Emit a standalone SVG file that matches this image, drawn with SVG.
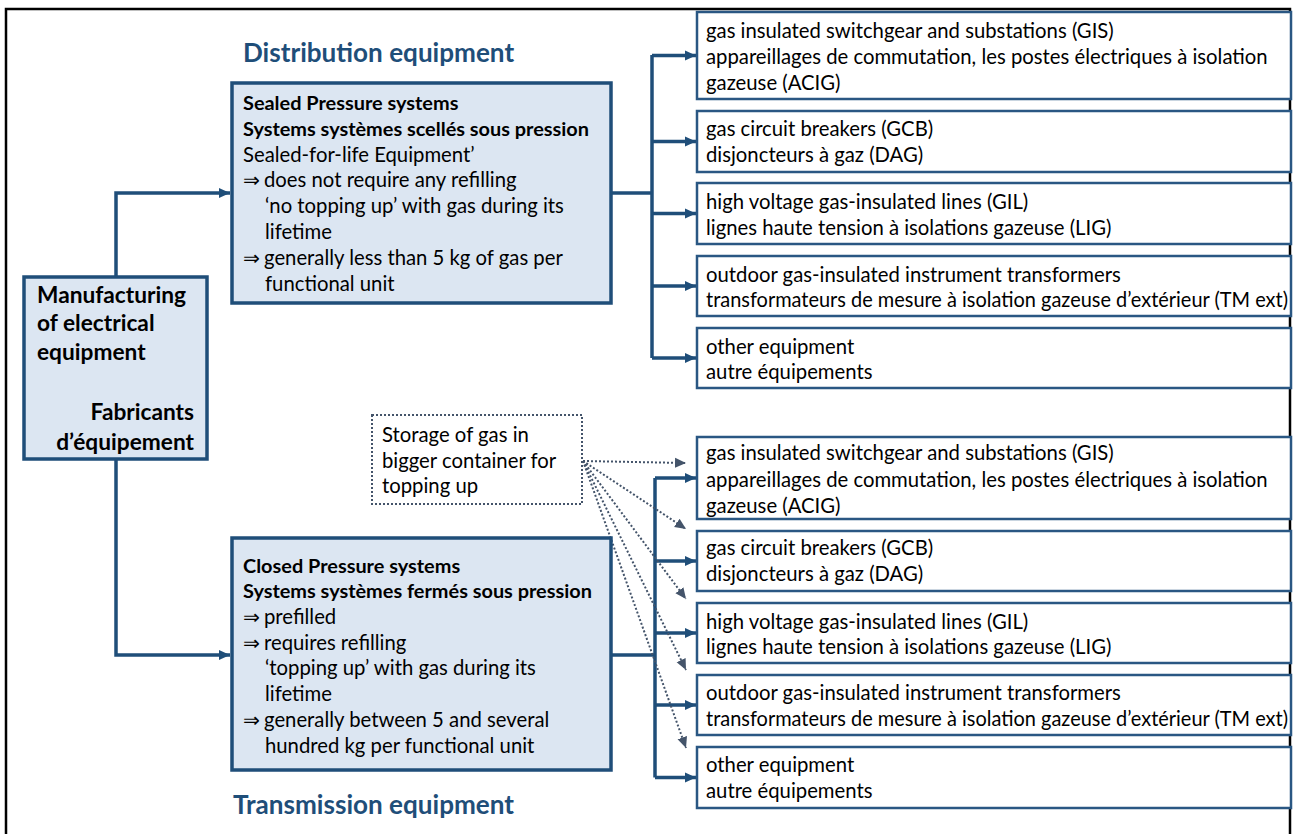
<svg xmlns="http://www.w3.org/2000/svg" width="1297" height="834" viewBox="0 0 1297 834">
  <style>
    .t { font-family: Lato, "Liberation Sans", sans-serif; font-size: 20.3px; fill: #000; }
    .b { font-weight: bold; font-size: 19.9px; }
    .title { font-family: Lato, "Liberation Sans", sans-serif; font-size: 26.1px; font-weight: bold; fill: #1F4E79; }
    .big { font-family: Lato, "Liberation Sans", sans-serif; font-size: 22.7px; font-weight: bold; fill: #000; }
    .sys { fill: #DCE6F2; stroke: #1F4E79; stroke-width: 3.5; }
    .item { fill: #fff; stroke: #2A5783; stroke-width: 2.5; }
    .store { fill: #fff; stroke: #44546A; stroke-width: 2; stroke-dasharray: 2 2; }
    .link { fill: none; stroke: #1F4E79; stroke-width: 3.5; }
    .dot { fill: none; stroke: #44546A; stroke-width: 2; stroke-dasharray: 2 2; }
    .arr { font-family: "DejaVu Sans", sans-serif; }
  </style>
  <defs>
    <marker id="solid" markerUnits="userSpaceOnUse" markerWidth="12" markerHeight="12" refX="11" refY="6" orient="auto">
      <path d="M0,1 L11,6 L0,11 z" fill="#1F4E79"/>
    </marker>
    <marker id="dotted" markerUnits="userSpaceOnUse" markerWidth="12" markerHeight="12" refX="11" refY="6" orient="auto">
      <path d="M0,1 L11,6 L0,11 z" fill="#44546A"/>
    </marker>
  </defs>

  <rect width="1297" height="834" fill="#fff"/>
  <!-- outer frame -->
  <rect x="6" y="9" width="1284" height="900" fill="none" stroke="#000" stroke-width="2.5"/>

  <!-- connectors -->
  <g id="connectors">
    <polyline class="link" points="116,277 116,193 230,193" marker-end="url(#solid)"/>
    <polyline class="link" points="116,459 116,655 230,655" marker-end="url(#solid)"/>
    <!-- distribution bus -->
    <polyline class="link" points="611,193 652,193"/>
    <line class="link" x1="652" y1="55" x2="652" y2="358"/>
    <line class="link" x1="652" y1="55.5" x2="696" y2="55.5" marker-end="url(#solid)"/>
    <line class="link" x1="652" y1="141.5" x2="696" y2="141.5" marker-end="url(#solid)"/>
    <line class="link" x1="652" y1="213.5" x2="696" y2="213.5" marker-end="url(#solid)"/>
    <line class="link" x1="652" y1="286" x2="696" y2="286" marker-end="url(#solid)"/>
    <line class="link" x1="652" y1="358" x2="696" y2="358" marker-end="url(#solid)"/>
    <!-- transmission bus -->
    <polyline class="link" points="611,655 655,655"/>
    <line class="link" x1="655" y1="478" x2="655" y2="777.5"/>
    <line class="link" x1="655" y1="478" x2="696" y2="478" marker-end="url(#solid)"/>
    <line class="link" x1="655" y1="561" x2="696" y2="561" marker-end="url(#solid)"/>
    <line class="link" x1="655" y1="633" x2="696" y2="633" marker-end="url(#solid)"/>
    <line class="link" x1="655" y1="705" x2="696" y2="705" marker-end="url(#solid)"/>
    <line class="link" x1="655" y1="777.5" x2="696" y2="777.5" marker-end="url(#solid)"/>
    <!-- storage feeds -->
    <line class="dot" x1="583" y1="461" x2="686" y2="463" marker-end="url(#dotted)"/>
    <line class="dot" x1="583" y1="461" x2="686" y2="529" marker-end="url(#dotted)"/>
    <line class="dot" x1="583" y1="461" x2="686" y2="599" marker-end="url(#dotted)"/>
    <line class="dot" x1="583" y1="461" x2="686" y2="670" marker-end="url(#dotted)"/>
    <line class="dot" x1="583" y1="461" x2="686" y2="748" marker-end="url(#dotted)"/>
  </g>

  <g id="title-distribution">
    <text class="title" x="243" y="62">Distribution equipment</text>
  </g>
  <g id="title-transmission">
    <text class="title" x="233" y="814">Transmission equipment</text>
  </g>

  <g id="manufacturing">
    <rect class="sys" x="24" y="277" width="183" height="182"/>
    <text class="big" x="37" y="303">Manufacturing</text>
    <text class="big" x="37" y="331">of electrical</text>
    <text class="big" x="37" y="360">equipment</text>
    <text class="big" x="194" y="420" text-anchor="end">Fabricants</text>
    <text class="big" x="194" y="450" text-anchor="end">d’équipement</text>
  </g>

  <g id="sealed">
    <rect class="sys" x="232" y="83" width="379" height="220"/>
    <text class="t b" x="243" y="110">Sealed Pressure systems</text>
    <text class="t b" x="243" y="136">Systems systèmes scellés sous pression</text>
    <text class="t" x="243" y="162">Sealed-for-life Equipment’</text>
    <text class="t" x="243" y="187"><tspan class="arr">⇒</tspan><tspan x="264">does not require any refilling</tspan></text>
    <text class="t" x="265" y="213">‘no topping up’ with gas during its</text>
    <text class="t" x="265" y="239">lifetime</text>
    <text class="t" x="243" y="265"><tspan class="arr">⇒</tspan><tspan x="264">generally less than 5 kg of gas per</tspan></text>
    <text class="t" x="265" y="291">functional unit</text>
  </g>

  <g id="closed">
    <rect class="sys" x="232" y="538" width="379" height="232"/>
    <text class="t b" x="243" y="573">Closed Pressure systems</text>
    <text class="t b" x="243" y="598">Systems systèmes fermés sous pression</text>
    <text class="t" x="243" y="624"><tspan class="arr">⇒</tspan><tspan x="264">prefilled</tspan></text>
    <text class="t" x="243" y="650"><tspan class="arr">⇒</tspan><tspan x="264">requires refilling</tspan></text>
    <text class="t" x="265" y="675">‘topping up’ with gas during its</text>
    <text class="t" x="265" y="701">lifetime</text>
    <text class="t" x="243" y="727"><tspan class="arr">⇒</tspan><tspan x="264">generally between 5 and several</tspan></text>
    <text class="t" x="265" y="753">hundred kg per functional unit</text>
  </g>

  <g id="storage">
    <rect class="store" x="372" y="415" width="210" height="89"/>
    <text class="t" x="382" y="442">Storage of gas in</text>
    <text class="t" x="382" y="468">bigger container for</text>
    <text class="t" x="382" y="493">topping up</text>
  </g>

  <!-- distribution equipment list -->
  <g id="d-gis">
    <rect class="item" x="697" y="12" width="594" height="87"/>
    <text class="t" x="706" y="38">gas insulated switchgear and substations (GIS)</text>
    <text class="t" x="706" y="64">appareillages de commutation, les postes électriques à isolation</text>
    <text class="t" x="706" y="90">gazeuse (ACIG)</text>
  </g>
  <g id="d-gcb">
    <rect class="item" x="697" y="111" width="594" height="61"/>
    <text class="t" x="706" y="136">gas circuit breakers (GCB)</text>
    <text class="t" x="706" y="162">disjoncteurs à gaz (DAG)</text>
  </g>
  <g id="d-gil">
    <rect class="item" x="697" y="183" width="594" height="61"/>
    <text class="t" x="706" y="209">high voltage gas-insulated lines (GIL)</text>
    <text class="t" x="706" y="235">lignes haute tension à isolations gazeuse (LIG)</text>
  </g>
  <g id="d-tm">
    <rect class="item" x="697" y="256" width="594" height="60"/>
    <text class="t" x="706" y="282">outdoor gas-insulated instrument transformers</text>
    <text class="t" x="706" y="307" textLength="582" lengthAdjust="spacingAndGlyphs">transformateurs de mesure à isolation gazeuse d’extérieur (TM ext)</text>
  </g>
  <g id="d-other">
    <rect class="item" x="697" y="328" width="594" height="60"/>
    <text class="t" x="706" y="354">other equipment</text>
    <text class="t" x="706" y="379">autre équipements</text>
  </g>

  <!-- transmission equipment list -->
  <g id="t-gis">
    <rect class="item" x="697" y="437" width="594" height="82"/>
    <text class="t" x="706" y="460">gas insulated switchgear and substations (GIS)</text>
    <text class="t" x="706" y="487">appareillages de commutation, les postes électriques à isolation</text>
    <text class="t" x="706" y="513">gazeuse (ACIG)</text>
  </g>
  <g id="t-gcb">
    <rect class="item" x="697" y="531" width="594" height="60"/>
    <text class="t" x="706" y="555">gas circuit breakers (GCB)</text>
    <text class="t" x="706" y="581">disjoncteurs à gaz (DAG)</text>
  </g>
  <g id="t-gil">
    <rect class="item" x="697" y="603" width="594" height="60"/>
    <text class="t" x="706" y="629">high voltage gas-insulated lines (GIL)</text>
    <text class="t" x="706" y="654">lignes haute tension à isolations gazeuse (LIG)</text>
  </g>
  <g id="t-tm">
    <rect class="item" x="697" y="675" width="594" height="60"/>
    <text class="t" x="706" y="700">outdoor gas-insulated instrument transformers</text>
    <text class="t" x="706" y="726" textLength="582" lengthAdjust="spacingAndGlyphs">transformateurs de mesure à isolation gazeuse d’extérieur (TM ext)</text>
  </g>
  <g id="t-other">
    <rect class="item" x="697" y="747" width="594" height="61"/>
    <text class="t" x="706" y="772">other equipment</text>
    <text class="t" x="706" y="798">autre équipements</text>
  </g>
</svg>
